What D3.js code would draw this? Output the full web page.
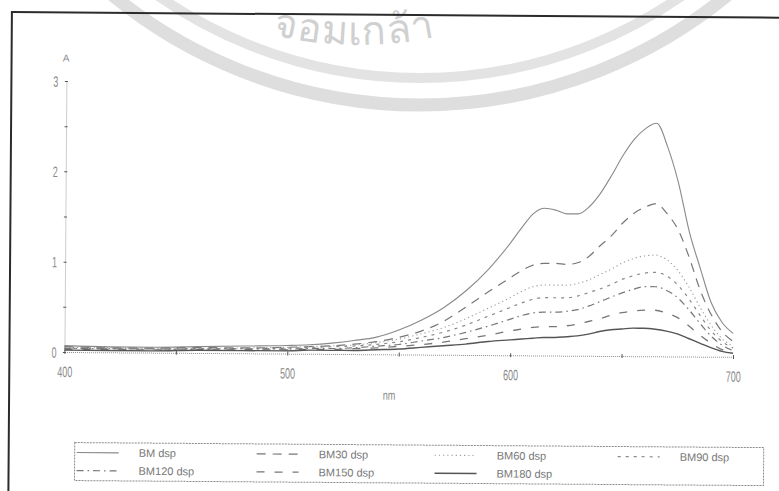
<!DOCTYPE html>
<html><head><meta charset="utf-8">
<script src="https://cdn.jsdelivr.net/npm/d3@7"></script>
<style>
html,body{margin:0;padding:0;background:#fff;}
svg{display:block;}
text{font-family:"Liberation Sans",Arial,sans-serif;}
</style></head><body>
<svg id="chart" width="779" height="491"></svg>
<script>
// Absorption spectra of the dye samples (absorbance vs wavelength)
const wavelengths = [400,420,440,460,480,500,510,520,530,540,550,560,570,580,590,600,605,610,615,620,625,630,635,640,645,650,655,660,665,670,675,680,685,690,695,700];
const seriesNames = ["BM dsp","BM30 dsp","BM60 dsp","BM90 dsp","BM120 dsp","BM150 dsp","BM180 dsp"];
const bm    = [0.07,0.06,0.06,0.07,0.08,0.09,0.10,0.12,0.15,0.19,0.27,0.38,0.52,0.71,0.95,1.25,1.42,1.57,1.63,1.61,1.57,1.57,1.65,1.80,2.00,2.22,2.40,2.52,2.58,2.32,1.92,1.38,0.98,0.60,0.38,0.26];
const bm30  = [0.06,0.05,0.05,0.06,0.06,0.07,0.08,0.09,0.11,0.14,0.19,0.26,0.37,0.53,0.70,0.86,0.94,1.00,1.02,1.02,1.01,1.03,1.10,1.22,1.33,1.47,1.58,1.65,1.69,1.58,1.40,1.10,0.74,0.47,0.28,0.17];
const bm60  = [0.05,0.05,0.05,0.05,0.06,0.07,0.08,0.09,0.10,0.13,0.17,0.23,0.30,0.40,0.52,0.64,0.71,0.76,0.78,0.78,0.78,0.80,0.84,0.90,0.96,1.03,1.08,1.11,1.12,1.07,0.95,0.77,0.55,0.35,0.20,0.12];
const bm90  = [0.04,0.04,0.04,0.05,0.05,0.06,0.07,0.08,0.09,0.11,0.14,0.19,0.25,0.33,0.43,0.53,0.58,0.62,0.64,0.64,0.64,0.66,0.70,0.74,0.79,0.85,0.89,0.92,0.93,0.89,0.79,0.64,0.46,0.29,0.17,0.10];
const bm120 = [0.04,0.04,0.04,0.04,0.05,0.05,0.06,0.06,0.07,0.09,0.11,0.15,0.19,0.25,0.32,0.40,0.44,0.47,0.48,0.48,0.49,0.51,0.55,0.60,0.65,0.70,0.74,0.77,0.77,0.73,0.65,0.52,0.37,0.23,0.13,0.07];
const bm150 = [0.03,0.03,0.03,0.03,0.04,0.04,0.05,0.05,0.06,0.07,0.09,0.11,0.14,0.18,0.22,0.27,0.29,0.31,0.32,0.32,0.33,0.35,0.38,0.41,0.45,0.48,0.50,0.51,0.51,0.48,0.43,0.34,0.24,0.15,0.08,0.05];
const bm180 = [0.02,0.02,0.02,0.03,0.03,0.03,0.04,0.04,0.04,0.05,0.06,0.08,0.10,0.12,0.15,0.17,0.18,0.19,0.20,0.20,0.21,0.22,0.24,0.27,0.29,0.30,0.31,0.31,0.30,0.28,0.25,0.20,0.15,0.10,0.06,0.04];
const seriesValues = [bm, bm30, bm60, bm90, bm120, bm150, bm180];

const xTicks = [400,450,500,550,600,650,700];
const xTickLabels = [400,500,600,700];
const yTicks = [0,0.5,1,1.5,2,2.5,3];
const yTickLabels = [0,1,2,3];

// line appearance per series
const lineStyles = [
  {stroke:"#8a8a8a", width:1.1, dash:null},
  {stroke:"#777",    width:1.2, dash:"9,7"},
  {stroke:"#9a9a9a", width:1.1, dash:"1.2,3"},
  {stroke:"#888",    width:1.2, dash:"3,5"},
  {stroke:"#777",    width:1.2, dash:"7,4,1.5,4"},
  {stroke:"#777",    width:1.3, dash:"8,10"},
  {stroke:"#555",    width:1.4, dash:null}
];

const svg = d3.select("#chart");

// faint ring stamp in the background
const stamp = svg.append("g").attr("fill","none");
const cx = 420, cy = -380;
stamp.append("circle").attr("cx",cx).attr("cy",cy).attr("r",485)
  .attr("stroke","#dedede").attr("stroke-width",13);
stamp.append("circle").attr("cx",cx).attr("cy",cy).attr("r",458)
  .attr("stroke","#e3e3e3").attr("stroke-width",10);
const tcx = 360, tcy = -330, rText = 375;
svg.append("defs").append("path").attr("id","stampArc")
  .attr("d",`M${tcx-rText},${tcy} A${rText},${rText} 0 0 0 ${tcx+rText},${tcy}`);
svg.append("text").attr("font-size",40).attr("fill","#d0d0d0")
  .attr("font-family","'Noto Sans',sans-serif").attr("letter-spacing",1)
  .append("textPath").attr("href","#stampArc").attr("startOffset","49.5%")
  .attr("text-anchor","middle").text("จอมเกล้า");

// the printed page sits slightly rotated
const g = svg.append("g").attr("transform","rotate(0.42)");

g.append("rect").attr("x",12).attr("y",12).attr("width",820).attr("height",540)
  .attr("fill","none").attr("stroke","#2b2b2b").attr("stroke-width",2);

const x = d3.scaleLinear().domain([400,700]).range([67,735.6]);
const y = d3.scaleLinear().domain([0,3]).range([351.5,80.5]);

// x axis
const xAxis = g.append("g").attr("transform",`translate(0,${y(0)})`)
  .call(d3.axisBottom(x).tickValues(xTicks).tickSize(3).tickSizeOuter(0)
    .tickFormat(d => xTickLabels.includes(d) ? d : ""));
xAxis.select(".domain").attr("stroke","#8c8c8c").attr("stroke-dasharray","1,1");
xAxis.selectAll(".tick line").attr("stroke","#555").attr("y1",-2).attr("y2",2);
xAxis.selectAll(".tick text").attr("fill","#8a8a8a").attr("font-size",15)
  .attr("y",25).attr("dy",0).attr("transform","scale(0.6,1)");

// y axis
const yAxis = g.append("g").attr("transform",`translate(${x(400)},0)`)
  .call(d3.axisLeft(y).tickValues(yTicks).tickSize(3).tickSizeOuter(0)
    .tickFormat(d => yTickLabels.includes(d) ? d : ""));
yAxis.select(".domain").attr("stroke","#9a9a9a").attr("stroke-dasharray","1,1");
yAxis.selectAll(".tick line").attr("stroke","#555").attr("x1",-1.5).attr("x2",1.5);
yAxis.selectAll(".tick text").attr("fill","#8a8a8a").attr("font-size",15)
  .attr("x",-8/0.6).attr("dy","0.35em").attr("transform","scale(0.6,1)");

g.append("text").attr("x",66.5).attr("y",61).attr("text-anchor","middle")
  .attr("font-size",10).attr("fill","#888").text("A");
g.append("text").attr("transform","translate(392,397) scale(0.7,1)").attr("text-anchor","middle")
  .attr("font-size",13).attr("fill","#8a8a8a").text("nm");

// spectra
const line = d3.line().x((d,i) => x(wavelengths[i])).y(d => y(d)).curve(d3.curveMonotoneX);
seriesValues.forEach((vals, k) => {
  const st = lineStyles[k];
  g.append("path").datum(vals).attr("d",line).attr("fill","none")
    .attr("stroke",st.stroke).attr("stroke-width",st.width)
    .attr("stroke-dasharray",st.dash);
});

// legend
const legend = g.append("g");
legend.append("rect").attr("x",78).attr("y",442).attr("width",689).attr("height",38)
  .attr("fill","none").attr("stroke","#8a8a8a").attr("stroke-width",1).attr("stroke-dasharray","2,1");
const colX = [142,322,500,683];
const rowY = [452,470];
seriesNames.forEach((name, i) => {
  const tx = colX[i % 4], ty = rowY[Math.floor(i / 4)];
  const st = lineStyles[i];
  legend.append("line").attr("x1",tx-62).attr("x2",tx-20).attr("y1",ty).attr("y2",ty)
    .attr("stroke",st.stroke).attr("stroke-width",st.width).attr("stroke-dasharray",st.dash);
  legend.append("text").attr("x",tx).attr("y",ty).attr("dy","0.35em")
    .attr("font-size",11).attr("fill","#777").text(name);
});
</script>
</body></html>
